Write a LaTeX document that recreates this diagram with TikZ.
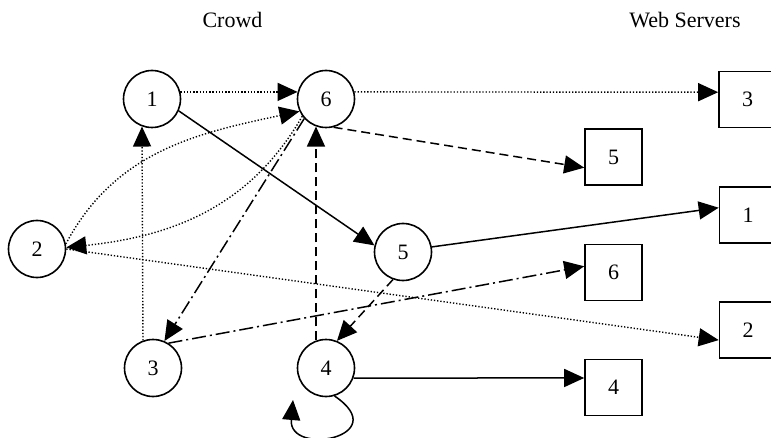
\documentclass[tikz,border=0pt]{standalone}
\usepackage{fontspec}
\setmainfont{Liberation Serif}
\usetikzlibrary{arrows.meta}
\tikzset{>={Triangle[length=20pt,width=18pt]}}
\tikzset{
  every node/.style={font=\fontsize{22}{24}\selectfont},
  peer/.style={draw,circle,line width=1.6pt,minimum size=57pt,inner sep=0pt},
  server/.style={draw,rectangle,line width=1.6pt,minimum width=57pt,minimum height=56pt,inner sep=0pt},
  solidline/.style={->,line width=1.5pt},
  dotline/.style={->,line width=1.4pt,dash pattern=on 1.3pt off 1.9pt},
  dashline/.style={->,line width=1.5pt,dash pattern=on 9pt off 5pt},
  dashdotline/.style={->,line width=1.5pt,dash pattern=on 14pt off 4pt on 2pt off 4pt},
}

\begin{document}
\begin{tikzpicture}[x=1pt,y=1pt]
  \useasboundingbox (0,0) rectangle (771,437);
  % column titles
  \node[anchor=base] (crowd) at (232.5,409) {Crowd};
  \node[anchor=base] (web) at (685,409) {Web Servers};

  % crowd members
  \node[peer] (n1) at (152,338) {1};
  \node[peer] (n6) at (326,338) {6};
  \node[peer] (n2) at (37,188) {2};
  \node[peer] (n5) at (403,185) {5};
  \node[peer] (n3) at (153,69) {3};
  \node[peer] (n4) at (326,69) {4};

  % servers
  \node[server] (s3) at (747.5,337.5) {3};
  \node[server] (s5) at (613.5,280) {5};
  \node[server] (s1) at (748,222) {1};
  \node[server] (s6) at (613.5,164.5) {6};
  \node[server] (s2) at (748,107) {2};
  \node[server] (s4) at (613.5,49.5) {4};

  % dotted requests
  \draw[dotline] (n1.14) -- (n6.166);
  \draw[dotline] (n6.14) -- (s3.166);
  \draw[dotline] (n3.110) -- (n1.250);
  \draw[dotline] (n2.10) to[out=62,in=192] (n6.205);
  \draw[dotline] (n6.216) to[out=240,in=6] (n2.3);
  \draw[dotline] (n2.east) -- (s2.199);

  % solid requests
  \draw[solidline] (n1.-24) -- (n5.167);
  \draw[solidline] (n5.10) -- (s1.166);
  \draw[solidline] (n4.-20) -- (s4.162);

  % dashed requests
  \draw[dashline] (n6.-75) -- (s5.200);
  \draw[dashline] (n4.110) -- (n6.250);
  \draw[dashline] (n5.250) -- (n4.68);

  % dash-dotted requests
  \draw[dashdotline] (n6.222) -- (n3.67);
  \draw[dashdotline] (n3.58) -- (s6.168);

  % 4 asks itself
  \coordinate (loopend) at (293,37);
  \draw[solidline] (n4.287) .. controls (395,0) and (288,-20) .. (loopend);
\end{tikzpicture}
\end{document}
